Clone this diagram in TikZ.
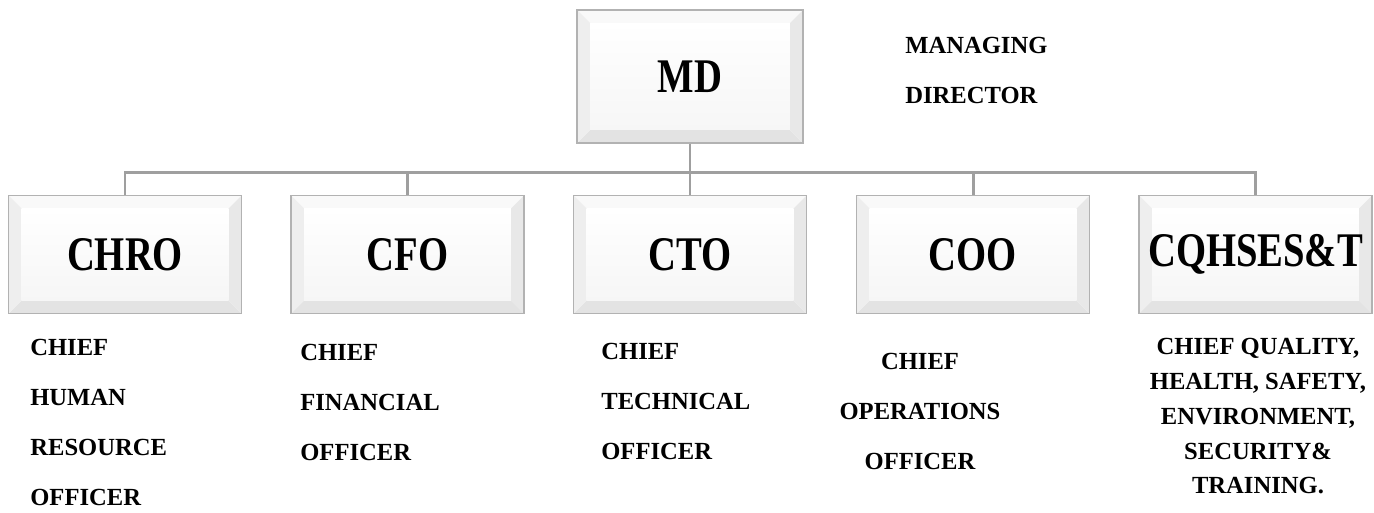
\documentclass[tikz,border=0pt]{standalone}
\usepackage{fontspec}
\setmainfont{Liberation Serif}
\newcommand{\tallword}[1]{\scalebox{1}[1.25]{#1}}
\begin{document}
\begin{tikzpicture}[x=0.02cm,y=-0.02cm,
	bevelbox/.style={draw=gray!60, line width=0.8pt, fill=white, inner sep=0pt,
		font=\bfseries\fontsize{22}{26}\selectfont,
		path picture={
			\path (path picture bounding box.north west) coordinate (onw) ++(0.26cm,-0.26cm) coordinate (inw);
			\path (path picture bounding box.south east) coordinate (ose) ++(-0.26cm,0.26cm) coordinate (ise);
			\path (path picture bounding box.north east) coordinate (one);
			\path (path picture bounding box.south west) coordinate (osw);
			\fill[gray!5] (onw) -- (one) -- (ise |- inw) -- (inw) -- cycle;
			\fill[gray!22] (osw) -- (ose) -- (ise) -- (inw |- ise) -- cycle;
			\fill[gray!13] (onw) -- (inw) -- (inw |- ise) -- (osw) -- cycle;
			\fill[gray!18] (one) -- (ise |- inw) -- (ise) -- (ose) -- cycle;
			\shade[top color=white, bottom color=gray!7] (inw) rectangle (ise);
		}},
	topbox/.style={bevelbox, minimum width=4.52cm, minimum height=2.66cm},
	subbox/.style={bevelbox, minimum width=4.66cm, minimum height=2.36cm},
	orgline/.style={draw=gray!75, line width=1.7pt},
	desc/.style={inner sep=0pt, align=left, font=\bfseries\fontsize{14}{28.4}\selectfont},
	]
	\useasboundingbox (0,0) rectangle (1374,512);
	% top of the chart
	\node[topbox] (md) at (690,76.5) {\tallword{MD}};
	\node[desc, anchor=north west] (mdtext) at (905,37) {MANAGING\\DIRECTOR};
	% the five chiefs
	\node[subbox] (chro) at (125,254.5) {\tallword{CHRO}};
	\node[subbox] (cfo) at (407.5,254.5) {\tallword{CFO}};
	\node[subbox] (cto) at (690,254.5) {\tallword{CTO}};
	\node[subbox] (coo) at (973,254.5) {\tallword{COO}};
	\node[subbox] (cq) at (1255.5,254.5) {\tallword{CQHSES\&T}};
	% connectors
	\coordinate (bus) at (690,172);
	\draw[orgline] (md.south) -- (bus);
	\foreach \n in {chro,cfo,cto,coo,cq}
		\draw[orgline] (bus) -| (\n.north);
	% titles written out
	\node[desc, anchor=north west] (chrotext) at (30,339) {CHIEF\\HUMAN\\RESOURCE\\OFFICER};
	\node[desc, anchor=north west] (cfotext) at (300,344) {CHIEF\\FINANCIAL\\OFFICER};
	\node[desc, anchor=north west] (ctotext) at (601,343) {CHIEF\\TECHNICAL\\OFFICER};
	\node[desc, align=center, anchor=north] (cootext) at (920,353) {CHIEF\\OPERATIONS\\OFFICER};
	\node[desc, align=center, anchor=north, font=\bfseries\fontsize{14}{19.8}\selectfont] (cqtext) at (1258,338)
		{CHIEF QUALITY,\\HEALTH, SAFETY,\\ENVIRONMENT,\\SECURITY\&\\TRAINING.};
\end{tikzpicture}
\end{document}
